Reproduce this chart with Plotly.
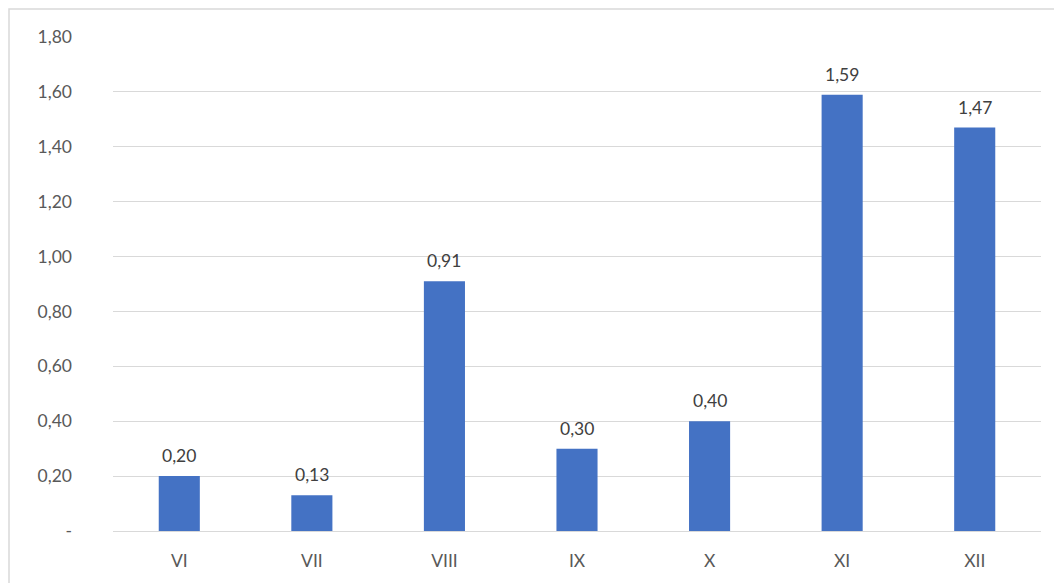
import plotly.graph_objects as go

categories = ["VI", "VII", "VIII", "IX", "X", "XI", "XII"]
values = [0.20, 0.13, 0.91, 0.30, 0.40, 1.59, 1.47]
y_tickvals = [0, 0.2, 0.4, 0.6, 0.8, 1.0, 1.2, 1.4, 1.6, 1.8]
y_ticktext = ["-", "0,20", "0,40", "0,60", "0,80", "1,00", "1,20", "1,40", "1,60", "1,80"]

W, H = 1054, 583
ml, mr, mt, mb = 113, 13, 37, 50
FS = 17.5

fig = go.Figure(go.Bar(
    x=categories, y=values,
    marker=dict(color="#4472C4", line=dict(width=0)),
    width=0.31,
    cliponaxis=False,
))

for c, v in zip(categories, values):
    fig.add_annotation(x=c, y=v, text=f"{v:.2f}".replace(".", ","),
                       showarrow=False, yanchor="bottom", yshift=8,
                       font=dict(size=FS, color="#404040"))

pw = W - ml - mr
ph = H - mt - mb
fig.add_shape(type="rect", xref="paper", yref="paper",
              x0=(9 - ml) / pw, x1=1.2, y0=-0.3, y1=(H - mb - 9) / ph,
              line=dict(color="#d9d9d9", width=1.5), fillcolor="rgba(0,0,0,0)", layer="below")

fig.update_layout(
    width=W, height=H,
    margin=dict(l=ml, r=mr, t=mt, b=mb),
    paper_bgcolor="white", plot_bgcolor="white",
    font=dict(family="Lato", size=FS, color="#595959"),
    showlegend=False,
    separators=", ",
    xaxis=dict(showgrid=False, showline=True, linecolor="#d9d9d9", linewidth=1.2,
               ticks="", tickfont=dict(size=FS, color="#595959"), ticklabelstandoff=14),
    yaxis=dict(range=[0, 1.8], tickvals=y_tickvals, ticktext=y_ticktext,
               showgrid=True, gridcolor="#d9d9d9", gridwidth=1.2, zeroline=False,
               showline=False, ticks="", tickfont=dict(size=FS, color="#595959"),
               ticklabelstandoff=40),
)

fig.write_html("out.html", config={"displayModeBar": False},
               post_script="document.body.style.margin='0';")
